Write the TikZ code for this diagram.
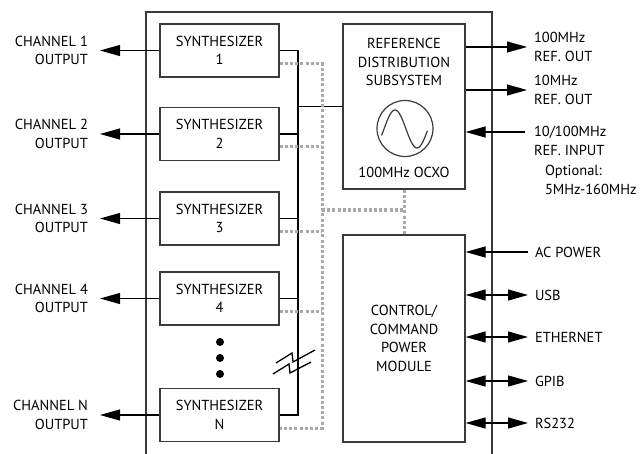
\documentclass[tikz,border=0pt]{standalone}
\usepackage{fontspec}
\setmainfont{PT Sans}
\usetikzlibrary{arrows.meta, positioning, calc}
\definecolor{edge}{HTML}{3A3A3A}
\definecolor{dots}{HTML}{A7A9AC}

\begin{document}
\begin{tikzpicture}[
    x=1pt, y=-1pt,
    every node/.style={font=\fontsize{14.5}{18.5}\selectfont},
    synth/.style={rectangle, draw=edge, line width=1.2pt, minimum width=119pt,
                  minimum height=53pt, align=center, inner sep=0pt},
    unit/.style={rectangle, draw=edge, line width=1.2pt, minimum width=122pt,
                 align=center},
    frame/.style={draw=edge, line width=1.6pt},
    bus/.style={line width=1.8pt},
    ctrl/.style={draw=dots, line width=3pt, dash pattern=on 3pt off 2.2pt},
    arr/.style={-{Triangle[length=20pt, width=11pt]}, line width=1.1pt},
    darr/.style={{Triangle[length=20pt, width=11pt]}-{Triangle[length=20pt, width=11pt]},
                 line width=1.1pt},
    chlbl/.style={anchor=east, align=right, inner sep=0pt, outer xsep=12pt},
    portlbl/.style={anchor=west, align=left, inner sep=0pt, outer xsep=7pt},
    dot/.style={circle, fill, inner sep=0pt, minimum size=8pt}
]
    \useasboundingbox (0,0) rectangle (644,454);
    \draw[frame] (146,454) |- (492,12) -- (492,454);

    % synthesizers
    \node[synth] (s1) at (219.5, 50.5) {SYNTHESIZER\\1};
    \node[synth] (s2) at (219.5, 134)  {SYNTHESIZER\\2};
    \node[synth] (s3) at (219.5, 218.5) {SYNTHESIZER\\3};
    \node[synth] (s4) at (219.5, 298.5) {SYNTHESIZER\\4};
    \node[synth] (sN) at (219.5, 415)  {SYNTHESIZER\\N};
    \node[dot] (e1) at (220, 342) {};
    \node[dot] (e2) at (220, 358) {};
    \node[dot] (e3) at (220, 374) {};

    % reference and control units
    \node[unit, minimum height=165pt] (ref) at (404, 106.5) {};
    \node[align=center] (reftxt) at (404, 62) {REFERENCE\\DISTRIBUTION\\SUBSYSTEM};
    \node[circle, draw=edge, line width=1.2pt, minimum size=56pt, inner sep=0pt] (osc) at (405, 128.5) {};
    \draw[edge, line width=1.2pt] plot[domain=-20:355, samples=60, smooth] ({384+\x*44/360}, {129-19*sin(\x)});
    \node (ocxo) at (404, 172) {100MHz OCXO};
    \node[unit, minimum height=207pt] (ctl) at (404, 338.5) {CONTROL/\\COMMAND\\POWER\\MODULE};

    % reference bus
    \coordinate (bustop) at (298, 50.5);
    \coordinate (busbot) at (298, 415);
    \draw[bus] (s1.east) -- (bustop) -- (busbot) -- (sN.east);
    \draw[bus] (s2.east) -- (s2.east -| bustop);
    \draw[bus] (s3.east) -- (s3.east -| bustop);
    \draw[bus] (s4.east) -- (s4.east -| bustop);
    \draw[bus] (ref.west) -- (ref.west -| bustop);

    % control bus
    \coordinate (dtop) at (322, 63.5);
    \coordinate (dbot) at (322, 428);
    \coordinate (djoin) at (404, 210);
    \draw[ctrl] ([yshift=-13pt]s1.east) -- (dtop) -- (dbot) -- ([yshift=-13pt]sN.east);
    \draw[ctrl] ([yshift=-13pt]s2.east) -- ([yshift=-13pt]s2.east -| dtop);
    \draw[ctrl] ([yshift=-13pt]s3.east) -- ([yshift=-13pt]s3.east -| dtop);
    \draw[ctrl] ([yshift=-13pt]s4.east) -- ([yshift=-13pt]s4.east -| dtop);
    \draw[ctrl] (djoin -| dtop) -- (djoin);
    \draw[ctrl] (ref.south) -- (ctl.north);

    % break mark
    \draw[line width=1.3pt] (276,363) -- (292,353) -- (293,362) -- (315,350);
    \draw[line width=1.3pt] (273,374) -- (289,364) -- (290,373) -- (311,362);

    % channel outputs
    \node[chlbl] (c1) at (100, 50.5) {CHANNEL 1\\OUTPUT};
    \node[chlbl] (c2) at (100, 134)  {CHANNEL 2\\OUTPUT};
    \node[chlbl] (c3) at (100, 218.5) {CHANNEL 3\\OUTPUT};
    \node[chlbl] (c4) at (100, 298.5) {CHANNEL 4\\OUTPUT};
    \node[chlbl] (cN) at (100, 415)  {CHANNEL N\\OUTPUT};
    \draw[arr] (s1.west) -- (c1.east);
    \draw[arr] (s2.west) -- (c2.east);
    \draw[arr] (s3.west) -- (c3.east);
    \draw[arr] (s4.west) -- (c4.east);
    \draw[arr] (sN.west) -- (cN.east);

    % reference ports
    \node[portlbl] (o100) at (527, 47) {100MHz\\REF. OUT};
    \node[portlbl] (o10)  at (527, 90) {10MHz\\REF. OUT};
    \coordinate (iin) at (525, 132);
    \node[portlbl] (iref) at (527, 141) {10/100MHz\\REF. INPUT};
    \node[portlbl] (iopt) at (538, 180) {Optional:\\5MHz-160MHz};
    \draw[arr] (ref.east |- o100.west) -- (o100.west);
    \draw[arr] (ref.east |- o10.west) -- (o10.west);
    \draw[arr] (iin) -- (iin -| ref.east);

    % control ports
    \node[portlbl] (acp) at (528, 252) {AC POWER};
    \node[portlbl] (usb) at (528, 295) {USB};
    \node[portlbl] (eth) at (528, 337) {ETHERNET};
    \node[portlbl] (gpib) at (528, 381) {GPIB};
    \node[portlbl] (rs) at (528, 423) {RS232};
    \draw[arr] (acp.west) -- (acp.west -| ctl.east);
    \draw[darr] (usb.west -| ctl.east) -- (usb.west);
    \draw[darr] (eth.west -| ctl.east) -- (eth.west);
    \draw[darr] (gpib.west -| ctl.east) -- (gpib.west);
    \draw[darr] (rs.west -| ctl.east) -- (rs.west);
\end{tikzpicture}
\end{document}
